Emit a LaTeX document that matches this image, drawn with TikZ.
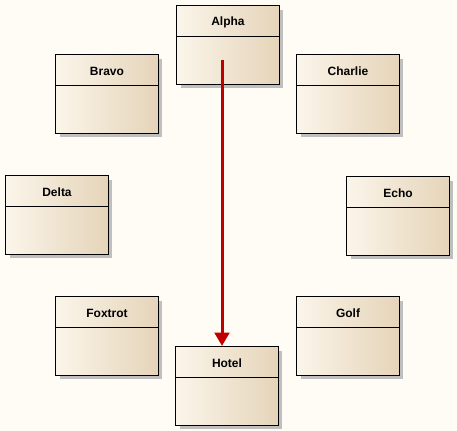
\documentclass[tikz,border=0pt]{standalone}
\usepackage{fontspec}
\setmainfont{Liberation Sans}
\usepackage{tikz}
\usetikzlibrary{shadows,arrows.meta}

\definecolor{bgcol}{HTML}{FFFCF5}
\definecolor{boxlight}{HTML}{FBF5EA}
\definecolor{boxmid}{HTML}{F5ECDC}
\definecolor{boxdark}{HTML}{E5D4B9}
\definecolor{deparrow}{HTML}{C00000}

\begin{document}
\begin{tikzpicture}
            [x=0.75pt, y=-0.75pt,
             classbox/.style={draw, line width=1.1pt, minimum width=77pt, minimum height=59pt,
                              left color=boxlight, middle color=boxmid, right color=boxdark,
                              drop shadow={shadow xshift=3pt, shadow yshift=-3pt, fill=black!25, opacity=1},
                              path picture={\draw[line width=1.1pt]
                                ([yshift=-23.25pt]path picture bounding box.north west) --
                                ([yshift=-23.25pt]path picture bounding box.north east);}},
             classtitle/.style={font=\fontsize{9}{10}\selectfont\bfseries, inner sep=0pt},
             dependency/.style={draw=deparrow, line width=2.25pt, -{Triangle[width=11pt, length=10pt]}}]
            \useasboundingbox[fill=bgcol] (0, 0) rectangle (457, 431);
            \node [classbox] (alpha) at (228, 45) {};
            \node [classbox] (bravo) at (107, 94) {};
            \node [classbox] (charlie) at (348, 94) {};
            \node [classbox] (delta) at (57, 215) {};
            \node [classbox] (echo) at (398, 216) {};
            \node [classbox] (foxtrot) at (107, 336) {};
            \node [classbox] (golf) at (348, 336) {};
            \node [classbox] (hotel) at (227, 386) {};
            \node [classtitle] (alpha title) at ([yshift=-13pt]alpha.north) {Alpha};
            \node [classtitle] (bravo title) at ([yshift=-13pt]bravo.north) {Bravo};
            \node [classtitle] (charlie title) at ([yshift=-13pt]charlie.north) {Charlie};
            \node [classtitle] (delta title) at ([yshift=-13pt]delta.north) {Delta};
            \node [classtitle] (echo title) at ([yshift=-13pt]echo.north) {Echo};
            \node [classtitle] (foxtrot title) at ([yshift=-13pt]foxtrot.north) {Foxtrot};
            \node [classtitle] (golf title) at ([yshift=-13pt]golf.north) {Golf};
            \node [classtitle] (hotel title) at ([yshift=-13pt]hotel.north) {Hotel};
            \coordinate (alpha start) at ([xshift=-4.5pt, yshift=-11.25pt]alpha.center);
            \draw [dependency] (alpha start) -- (alpha start |- hotel.north);
        \end{tikzpicture}
\end{document}
